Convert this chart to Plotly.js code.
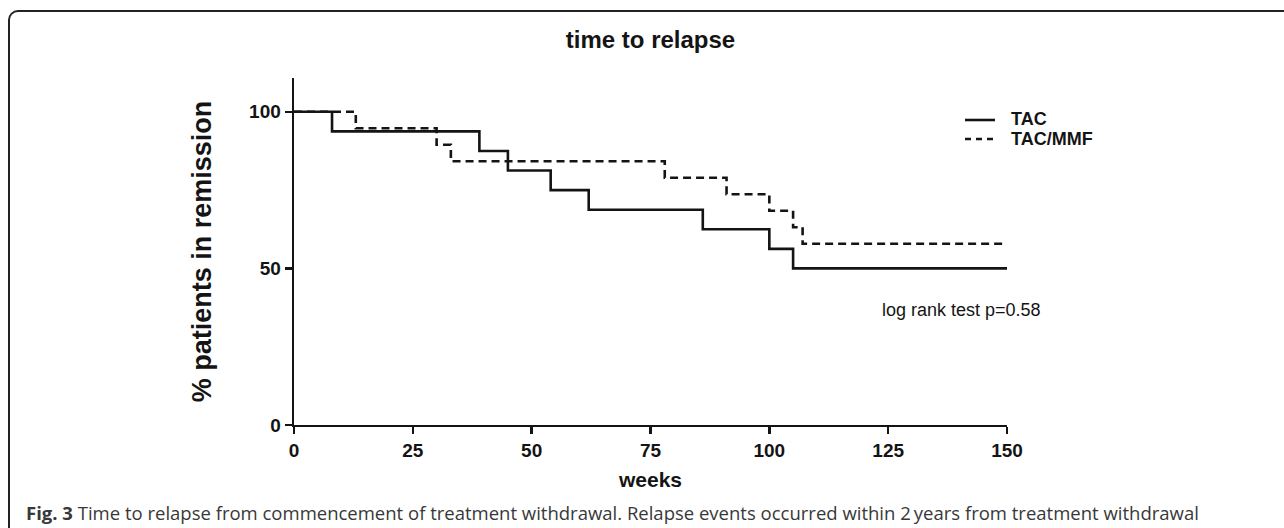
<!DOCTYPE html>
<html>
<head>
<meta charset="utf-8">
<script src="https://cdn.plot.ly/plotly-3.0.1.min.js"></script>
<style>
  html, body { margin: 0; padding: 0; background: #fff; }
  #wrap { position: relative; width: 1284px; height: 528px; overflow: hidden; }
  #chart { position: absolute; left: 0; top: 0; width: 1284px; height: 528px; }
  #frame { position: absolute; left: 8px; top: 10px; width: 1300px; height: 560px;
           border-top: 2px solid #222; border-left: 2px solid #222;
           border-top-left-radius: 10px; pointer-events: none; }
</style>
</head>
<body>
<div id="wrap">
  <div id="chart"></div>
  <div id="frame"></div>
</div>
<script>
// Kaplan-Meier step data (weeks, % patients in remission)
const tacWeeks = [0, 8, 39, 45, 54, 62, 86, 100, 105, 150];
const tacRemission = [100, 93.75, 87.5, 81.25, 75, 68.75, 62.5, 56.25, 50, 50];
const mmfWeeks = [0, 13, 30, 33, 78, 91, 100, 105, 107, 150];
const mmfRemission = [100, 94.74, 89.47, 84.21, 78.95, 73.68, 68.42, 63.16, 57.89, 57.89];

const seriesNames = ["TAC", "TAC/MMF"];
const xTicks = [0, 25, 50, 75, 100, 125, 150];
const yTicks = [0, 50, 100];

const chartTitle = "time to relapse";
const xTitle = "weeks";
const yTitle = "% patients in remission";
const statText = "log rank test p=0.58";
const captionBold = "Fig. 3";
const captionText = " Time to relapse from commencement of treatment withdrawal. Relapse events occurred within 2\u2009years from treatment withdrawal";

const ink = "#141414";
const sans = "Liberation Sans, Arial, sans-serif";

const traces = [
  { x: tacWeeks, y: tacRemission, name: seriesNames[0], type: "scatter", mode: "lines",
    line: { shape: "hv", color: ink, width: 2.6 }, hoverinfo: "x+y+name" },
  { x: mmfWeeks, y: mmfRemission, name: seriesNames[1], type: "scatter", mode: "lines",
    line: { shape: "hv", color: ink, width: 2.6, dash: "8px,5px" }, hoverinfo: "x+y+name" }
];

// plot area in pixels: x 294..1007, y 78..425
const L = 294, R = 1007, T = 78, B = 425;
const px = v => (v - L) / (R - L);
const py = v => (B - v) / (B - T);

const layout = {
  width: 1284, height: 528,
  margin: { l: L, r: 1284 - R, t: T, b: 528 - B, pad: 0 },
  paper_bgcolor: "#ffffff", plot_bgcolor: "#ffffff",
  showlegend: false,
  font: { family: sans, color: ink },
  title: { text: chartTitle, x: 0.5, xref: "paper", y: 1 - 40 / 528, yref: "container",
           yanchor: "middle", font: { family: sans, size: 24, weight: "bold", color: ink } },
  xaxis: {
    range: [0, 150], tickvals: xTicks, ticktext: xTicks.map(String),
    showgrid: false, zeroline: false, showline: true, linecolor: ink, linewidth: 2.4,
    ticks: "outside", ticklen: 7, tickwidth: 2.4, tickcolor: ink,
    tickfont: { family: sans, size: 19, weight: "bold", color: ink },
    title: { text: xTitle, standoff: 12, font: { family: sans, size: 21, weight: "bold", color: ink } }
  },
  yaxis: {
    range: [0, 110.8], tickvals: yTicks, ticktext: yTicks.map(String),
    showgrid: false, zeroline: false, showline: true, linecolor: ink, linewidth: 2.4,
    ticks: "outside", ticklen: 7, tickwidth: 2.4, tickcolor: ink,
    tickfont: { family: sans, size: 19, weight: "bold", color: ink },
    title: { text: yTitle, standoff: 30, font: { family: sans, size: 27, weight: "bold", color: ink } }
  },
  shapes: [
    { type: "line", xref: "paper", yref: "paper", x0: px(965), x1: px(995), y0: py(120), y1: py(120),
      line: { color: ink, width: 2.6 } },
    { type: "line", xref: "paper", yref: "paper", x0: px(965), x1: px(995), y0: py(139), y1: py(139),
      line: { color: ink, width: 2.6, dash: "6px,5px" } }
  ],
  annotations: [
    { text: seriesNames[0], xref: "paper", yref: "paper", x: px(1010), y: py(119), xanchor: "left", yanchor: "middle",
      showarrow: false, borderpad: 0, font: { family: sans, size: 18, weight: "bold", color: ink } },
    { text: seriesNames[1], xref: "paper", yref: "paper", x: px(1010), y: py(139), xanchor: "left", yanchor: "middle",
      showarrow: false, borderpad: 0, font: { family: sans, size: 18, weight: "bold", color: ink } },
    { text: statText, xref: "paper", yref: "paper", x: px(961), y: py(310), xanchor: "center", yanchor: "middle",
      showarrow: false, font: { family: sans, size: 18, color: ink } },
    { text: "<b>" + captionBold + "</b>" + captionText, xref: "paper", yref: "paper",
      x: px(24), y: py(512), xanchor: "left", yanchor: "middle", align: "left",
      showarrow: false, font: { family: "Open Sans, Noto Sans, sans-serif", size: 18.5, color: "#383838" } }
  ]
};

Plotly.newPlot("chart", traces, layout, { displayModeBar: false, staticPlot: true });
</script>
</body>
</html>
